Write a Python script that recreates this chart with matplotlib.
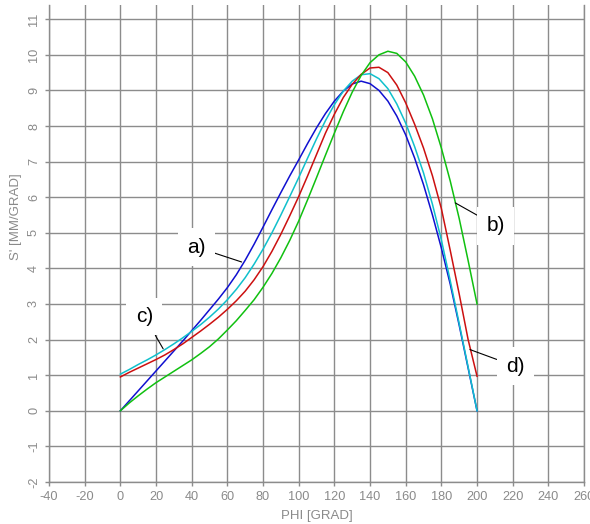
import matplotlib.pyplot as plt

plt.rcParams['font.family'] = ['Liberation Sans', 'DejaVu Sans']
plt.rcParams['axes.unicode_minus'] = False

# PHI [GRAD], every 5 degrees
phi = list(range(0, 201, 5))

# S' [MM/GRAD] for the four curves
s_blue = [0.0, 0.28, 0.56, 0.84, 1.12, 1.40, 1.68, 1.96, 2.25, 2.54, 2.84, 3.14, 3.46, 3.82,
          4.23, 4.68, 5.16, 5.65, 6.13, 6.60, 7.05, 7.51, 7.95, 8.35, 8.70, 8.98, 9.18, 9.26,
          9.19, 9.00, 8.70, 8.28, 7.75, 7.10, 6.35, 5.50, 4.57, 3.55, 2.40, 1.20, 0.0]
s_cyan = [1.03, 1.16, 1.30, 1.43, 1.57, 1.72, 1.88, 2.05, 2.23, 2.42, 2.63, 2.86, 3.12, 3.41,
          3.74, 4.12, 4.54, 5.00, 5.50, 6.02, 6.55, 7.10, 7.64, 8.15, 8.60, 8.98, 9.26, 9.44,
          9.47, 9.33, 9.05, 8.62, 8.08, 7.42, 6.68, 5.80, 4.80, 3.65, 2.45, 1.23, 0.0]
s_red = [0.95, 1.08, 1.20, 1.32, 1.44, 1.57, 1.72, 1.88, 2.06, 2.24, 2.43, 2.63, 2.85, 3.09,
         3.36, 3.68, 4.05, 4.48, 4.96, 5.48, 6.02, 6.60, 7.20, 7.80, 8.33, 8.80, 9.17, 9.45,
         9.63, 9.65, 9.50, 9.15, 8.65, 8.05, 7.38, 6.60, 5.68, 4.50, 3.28, 2.00, 0.97]
s_green = [0.0, 0.22, 0.42, 0.61, 0.79, 0.95, 1.11, 1.27, 1.43, 1.61, 1.80, 2.02, 2.27, 2.53,
           2.82, 3.12, 3.47, 3.86, 4.30, 4.79, 5.33, 5.93, 6.55, 7.18, 7.80, 8.40, 8.95, 9.42,
           9.78, 10.00, 10.10, 10.04, 9.80, 9.40, 8.87, 8.20, 7.38, 6.45, 5.40, 4.22, 3.0]

x_ticks = list(range(-40, 261, 20))
y_ticks = list(range(-2, 12))

# labels: text, text position, point on curve
labels = [
    ("a)", (42.5, 4.6), (68, 4.18)),
    ("c)", (13.5, 2.65), (24, 1.74)),
    ("b)", (210.5, 5.2), (187.8, 5.84)),
    ("d)", (221.5, 1.25), (196, 1.72)),
]

grid_col = '#8c8c8c'
txt_col = '#8a8a8a'

fig = plt.figure(figsize=(5.9, 5.24), dpi=100)
ax = fig.add_axes([0.0831, 0.0802, 0.9068, 0.9103])

ax.plot(phi, s_blue, color='#1010d0', lw=1.1, zorder=3)
ax.plot(phi, s_cyan, color='#10c0cc', lw=1.1, zorder=3)
ax.plot(phi, s_red, color='#cc1010', lw=1.1, zorder=3)
ax.plot(phi, s_green, color='#10c010', lw=1.1, zorder=3)

ax.set_xlim(-40, 260)
ax.set_ylim(-2, 11.4)
ax.set_xticks(x_ticks)
ax.set_yticks(y_ticks)
ax.grid(True, color=grid_col, lw=1.0)
ax.set_axisbelow(True)

ax.spines['top'].set_visible(False)
for side in ['left', 'bottom', 'right']:
    ax.spines[side].set_color(grid_col)
    ax.spines[side].set_linewidth(1.0)

ax.tick_params(axis='both', colors=grid_col, labelcolor=txt_col, labelsize=9.2, length=3, width=1)
plt.setp(ax.get_yticklabels(), rotation=90, va='center')

ax.set_xlabel("PHI [GRAD]", color=txt_col, fontsize=9.5)
ax.set_ylabel("S' [MM/GRAD]", color=txt_col, fontsize=9.5)
ax.xaxis.set_label_coords(0.5, -0.058)
ax.yaxis.set_label_coords(-0.05, 0.556)

for txt, pos, pt in labels:
    ax.annotate(txt, xy=pt, xytext=pos, fontsize=15, ha='center', va='center', zorder=4,
                bbox=dict(boxstyle='square,pad=0.45', fc='white', ec='none'),
                arrowprops=dict(arrowstyle='-', color='black', lw=0.8, shrinkA=0, shrinkB=0))

fig.savefig('out.png', dpi=100)
